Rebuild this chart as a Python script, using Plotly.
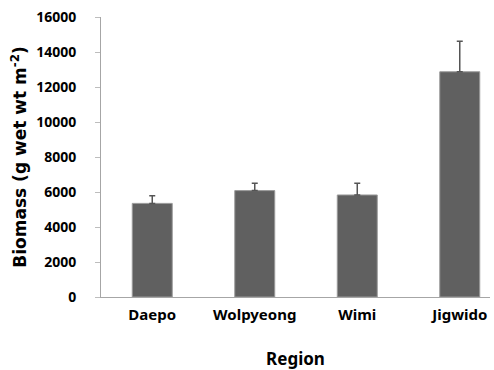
import plotly.graph_objects as go

regions = ["Daepo", "Wolpyeong", "Wimi", "Jigwido"]
biomass = [5350, 6080, 5830, 12870]
biomass_se = [440, 420, 670, 1740]
y_ticks = [0, 2000, 4000, 6000, 8000, 10000, 12000, 14000, 16000]

font_family = "Noto Sans, Open Sans, DejaVu Sans, sans-serif"
title_family = "DejaVu Sans, Noto Sans, sans-serif"

fig = go.Figure(
    go.Bar(
        x=regions,
        y=biomass,
        width=0.39,
        marker=dict(color="#606060", line=dict(color="#9a9a9a", width=1)),
        error_y=dict(
            type="data",
            symmetric=False,
            array=biomass_se,
            arrayminus=[0] * len(biomass_se),
            color="#555555",
            thickness=1.5,
            width=3,
        ),
    )
)

fig.update_layout(
    width=494,
    height=370,
    margin=dict(l=101, r=4, t=17, b=73),
    plot_bgcolor="white",
    paper_bgcolor="white",
    showlegend=False,
    font=dict(family=font_family, color="black"),
    xaxis=dict(
        range=[-0.5, 3.295],
        showline=True,
        linecolor="#a6a6a6",
        linewidth=1,
        ticks="",
        showgrid=False,
        tickfont=dict(size=15, weight="bold"),
        ticklabelstandoff=4,
        title=dict(text="Region", font=dict(size=17, weight="bold"), standoff=30),
    ),
    yaxis=dict(
        range=[0, 16000],
        tickvals=y_ticks,
        ticktext=[str(v) for v in y_ticks],
        showline=True,
        linecolor="#a6a6a6",
        linewidth=1,
        ticks="outside",
        ticklen=5,
        tickcolor="#bdbdbd",
        showgrid=False,
        zeroline=False,
        tickfont=dict(size=14, weight="bold"),
        ticklabelstandoff=16,
        title=dict(
            text="Biomass (g wet wt m<sup>-2</sup>)",
            font=dict(family=title_family, size=17, weight="bold"),
            standoff=5,
        ),
    ),
)

fig.write_html("out.html")
